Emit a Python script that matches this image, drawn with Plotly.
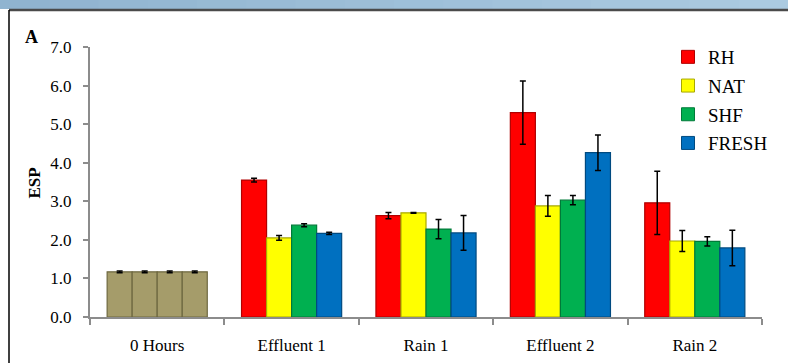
import plotly.graph_objects as go

categories = ["0 Hours", "Effluent 1", "Rain 1", "Effluent 2", "Rain 2"]
series = ["RH", "NAT", "SHF", "FRESH"]
rh = [1.17, 3.55, 2.63, 5.30, 2.96]
rh_err = [0.02, 0.05, 0.08, 0.82, 0.82]
nat = [1.17, 2.05, 2.70, 2.88, 1.97]
nat_err = [0.02, 0.06, 0.01, 0.27, 0.27]
shf = [1.17, 2.38, 2.28, 3.03, 1.96]
shf_err = [0.02, 0.04, 0.25, 0.12, 0.12]
fresh = [1.17, 2.17, 2.18, 4.26, 1.79]
fresh_err = [0.02, 0.03, 0.45, 0.46, 0.46]
y_ticks = [0, 1, 2, 3, 4, 5, 6, 7]

colors = ["#ff0000", "#ffff00", "#00b050", "#0070c0"]
edges = ["#b00000", "#a8a800", "#007a38", "#004a80"]
tan = "#a59c6a"
tan_edge = "#6e6840"

W, H = 788, 363
ML, MR, MT, MB = 90, 26, 47, 46
PW, PH = W - ML - MR, H - MT - MB


def px(x):
    return (x - ML) / PW


def py(y):
    return (H - MB - y) / PH


SERIF = "Times New Roman"

fig = go.Figure()
data = [(rh, rh_err), (nat, nat_err), (shf, shf_err), (fresh, fresh_err)]
for i, (name, (vals, errs)) in enumerate(zip(series, data)):
    cols = [tan] + [colors[i]] * (len(categories) - 1)
    lcols = [tan_edge] + [edges[i]] * (len(categories) - 1)
    fig.add_trace(go.Bar(
        x=categories, y=vals, name=name, showlegend=False,
        marker=dict(color=cols, line=dict(color=lcols, width=1.2)),
        error_y=dict(type="data", array=errs, visible=True, color="black",
                     thickness=1.5, width=3),
        legendgroup=name,
    ))

# legend entries with the series colours
for i, name in enumerate(series):
    fig.add_trace(go.Scatter(
        x=[None], y=[None], mode="markers", name=name, legendgroup=name,
        marker=dict(symbol="square", size=13, color=colors[i],
                    line=dict(color=edges[i], width=1)),
        showlegend=True,
    ))

fig.update_layout(
    width=W, height=H,
    margin=dict(l=ML, r=MR, t=MT, b=MB, autoexpand=False),
    paper_bgcolor="white", plot_bgcolor="white",
    barmode="group", bargap=0.255, bargroupgap=0.0,
    font=dict(family=SERIF, size=17, color="black"),
    showlegend=True,
    legend=dict(x=px(668), y=py(38), xanchor="left", yanchor="top",
                font=dict(family=SERIF, size=19, color="black"),
                bgcolor="rgba(0,0,0,0)", tracegroupgap=1,
                traceorder="grouped", itemwidth=30),
    xaxis=dict(showgrid=False, showline=True, linecolor="#8c8c8c", linewidth=2,
               ticks="outside", tickson="boundaries", ticklen=6, tickcolor="#8c8c8c",
               tickwidth=1.5, ticklabelstandoff=12,
               tickfont=dict(family=SERIF, size=17, color="black")),
    yaxis=dict(range=[0, 7], tickvals=y_ticks, tickformat=".1f", showgrid=False,
               showline=True, linecolor="#8c8c8c", linewidth=2, ticks="outside",
               ticklen=5, tickcolor="#8c8c8c", tickwidth=1.5, zeroline=False,
               ticklabelstandoff=8,
               tickfont=dict(family=SERIF, size=17, color="black")),
)

# header strip with gradient
shapes = []
n = 16
c0 = (0x90, 0xb4, 0xd0)
c1 = (0xab, 0xca, 0xe0)
for k in range(n):
    t = k / (n - 1)
    c = tuple(int(round(c0[j] + (c1[j] - c0[j]) * t)) for j in range(3))
    shapes.append(dict(type="rect", xref="paper", yref="paper",
                       x0=px(W * k / n), x1=px(W * (k + 1) / n + 1),
                       y0=py(0), y1=py(9), line=dict(width=0),
                       fillcolor="rgb(%d,%d,%d)" % c, layer="below"))
shapes.append(dict(type="line", xref="paper", yref="paper",
                   x0=px(9), x1=px(W), y0=py(10), y1=py(10),
                   line=dict(color="#4a4a4a", width=2.5)))
shapes.append(dict(type="line", xref="paper", yref="paper",
                   x0=px(9), x1=px(9), y0=py(10), y1=py(H),
                   line=dict(color="black", width=1.5)))
fig.update_layout(shapes=shapes)

fig.add_annotation(text="<b>A</b>", xref="paper", yref="paper",
                   x=px(23), y=py(25), showarrow=False,
                   font=dict(family=SERIF, size=18, color="black"))
fig.add_annotation(text="<b>ESP</b>", xref="paper", yref="paper",
                   x=px(22), y=py(183), showarrow=False, textangle=-90,
                   font=dict(family=SERIF, size=17, color="black"))

fig.write_html("out.html")
